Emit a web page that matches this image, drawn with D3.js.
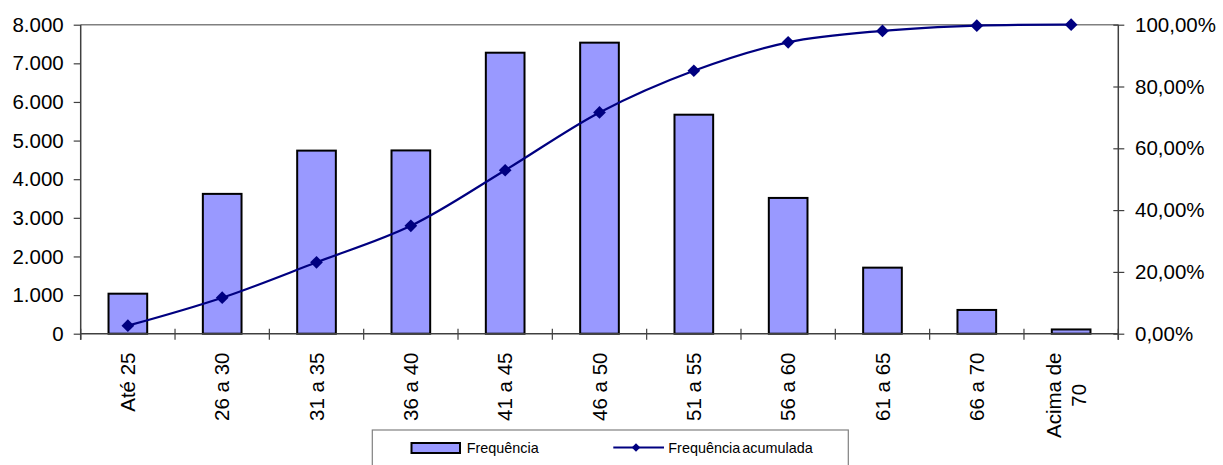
<!DOCTYPE html>
<html>
<head>
<meta charset="utf-8">
<script src="https://cdn.jsdelivr.net/npm/d3@7"></script>
<style>
  html, body { margin: 0; padding: 0; background: #fff; }
  svg { display: block; font-family: "Liberation Sans", Arial, sans-serif; }
</style>
</head>
<body>
<svg id="chart" width="1223" height="465"></svg>
<script>
// ---- data ----
const categories = ["Até 25", "26 a 30", "31 a 35", "36 a 40", "41 a 45", "46 a 50", "51 a 55", "56 a 60", "61 a 65", "66 a 70", "Acima de 70"];
const frequencia = [1036, 3620, 4740, 4745, 7275, 7535, 5670, 3515, 1710, 615, 110];
const acumulada = [0.026, 0.1165, 0.231, 0.349, 0.529, 0.716, 0.851, 0.943, 0.980, 0.997, 1.0];
const leftTicks = [0, 1000, 2000, 3000, 4000, 5000, 6000, 7000, 8000];
const rightTicks = [0, 0.2, 0.4, 0.6, 0.8, 1.0];
const seriesNames = ["Frequência", "Frequência acumulada"];

// ---- layout ----
const W = 1223, H = 465;
const plot = { left: 80.7, right: 1118.3, top: 24.7, bottom: 333.7 };
const barColor = "#9999FF";
const lineColor = "#000080";
const axisColor = "#404040";
const fontSize = 20.5;

const locale = d3.formatLocale({ decimal: ",", thousands: ".", grouping: [3], currency: ["", ""] });
const fmtInt = locale.format(",d");
const fmtPct = locale.format(".2%");

const svg = d3.select("#chart");

const x = d3.scaleBand().domain(categories).range([plot.left, plot.right]).padding(0);
const yL = d3.scaleLinear().domain([0, 8000]).range([plot.bottom, plot.top]);
const yR = d3.scaleLinear().domain([0, 1]).range([plot.bottom, plot.top]);
const barW = x.bandwidth() * 0.41;
const cxOf = (c) => x(c) + x.bandwidth() / 2;

// top border of plot area
svg.append("line")
  .attr("x1", plot.left).attr("x2", plot.right)
  .attr("y1", plot.top).attr("y2", plot.top)
  .attr("stroke", "#808080").attr("stroke-width", 1.5);

// bars
svg.append("g").selectAll("rect")
  .data(categories)
  .join("rect")
  .attr("x", (d) => cxOf(d) - barW / 2)
  .attr("width", barW)
  .attr("y", (d, i) => yL(frequencia[i]))
  .attr("height", (d, i) => yL(0) - yL(frequencia[i]))
  .attr("fill", barColor)
  .attr("stroke", "#000")
  .attr("stroke-width", 2);

// left axis
const gL = svg.append("g")
  .attr("transform", `translate(${plot.left},0)`)
  .call(d3.axisLeft(yL).tickValues(leftTicks).tickFormat(fmtInt).tickSize(7).tickSizeOuter(0).tickPadding(10));
gL.select(".domain").attr("stroke", axisColor).attr("stroke-width", 1.5)
  .attr("d", `M0,${plot.top}V${plot.bottom + 6}`);
gL.selectAll(".tick line").attr("stroke", axisColor).attr("stroke-width", 1.2);
gL.selectAll(".tick text").attr("font-size", fontSize).attr("fill", "#000").attr("font-family", "Liberation Sans, Arial, sans-serif");

// right axis
const gR = svg.append("g")
  .attr("transform", `translate(${plot.right},0)`)
  .call(d3.axisRight(yR).tickValues(rightTicks).tickFormat(fmtPct).tickSize(6).tickSizeOuter(0).tickPadding(10.7));
gR.select(".domain").attr("stroke", axisColor).attr("stroke-width", 1.5)
  .attr("d", `M0,${plot.top}V${plot.bottom + 6}`);
gR.selectAll(".tick line").attr("x1", -5).attr("x2", 6).attr("stroke", axisColor).attr("stroke-width", 1.2);
gR.selectAll(".tick text").attr("font-size", fontSize).attr("fill", "#000").attr("font-family", "Liberation Sans, Arial, sans-serif");

// bottom axis
const gB = svg.append("g");
gB.append("line")
  .attr("x1", plot.left).attr("x2", plot.right)
  .attr("y1", plot.bottom).attr("y2", plot.bottom)
  .attr("stroke", axisColor).attr("stroke-width", 1.5);
const boundaries = categories.map((c) => x(c)).concat([x.range()[1]]);
gB.selectAll("line.tk")
  .data(boundaries)
  .join("line")
  .attr("class", "tk")
  .attr("x1", (d) => d).attr("x2", (d) => d)
  .attr("y1", plot.bottom - 5).attr("y2", plot.bottom + 6)
  .attr("stroke", axisColor).attr("stroke-width", 1.2);

// category labels (rotated)
const labelTop = 352.5;
const measure = svg.append("text").attr("font-size", fontSize).attr("visibility", "hidden");
categories.forEach((c) => {
  measure.text(c);
  let lines = [c];
  if (measure.node().getComputedTextLength() > 78) {
    const k = c.lastIndexOf(" ");
    lines = [c.slice(0, k), c.slice(k + 1)];
  }
  const lineH = 25;
  const cx = cxOf(c);
  const g = svg.append("g");
  if (lines.length === 1) {
    g.append("text")
      .attr("transform", `translate(${cx},${labelTop}) rotate(-90)`)
      .attr("text-anchor", "end")
      .attr("dy", "0.35em")
      .attr("font-size", fontSize)
      .text(lines[0]);
  } else {
    let maxW = 0;
    lines.forEach((l) => { measure.text(l); maxW = Math.max(maxW, measure.node().getComputedTextLength()); });
    const cy = labelTop + maxW / 2;
    lines.forEach((l, j) => {
      const lx = cx - 4.5 + (j - (lines.length - 1) / 2) * lineH;
      g.append("text")
        .attr("transform", `translate(${lx},${cy}) rotate(-90)`)
        .attr("text-anchor", "middle")
        .attr("dy", "0.35em")
        .attr("font-size", fontSize)
        .text(l);
    });
  }
});
measure.remove();

// cumulative line (smoothed)
const line = d3.line()
  .x((d, i) => cxOf(categories[i]))
  .y((d) => yR(d))
  .curve(d3.curveCatmullRom.alpha(0.5));
svg.append("path")
  .datum(acumulada)
  .attr("d", line)
  .attr("fill", "none")
  .attr("stroke", lineColor)
  .attr("stroke-width", 2.2);

const diamond = d3.symbol().type(d3.symbolSquare).size(81);
svg.append("g").selectAll("path")
  .data(acumulada)
  .join("path")
  .attr("d", diamond)
  .attr("transform", (d, i) => `translate(${cxOf(categories[i])},${yR(d)}) rotate(45)`)
  .attr("fill", lineColor);

// legend
const lg = svg.append("g");
lg.append("rect")
  .attr("x", 372.3).attr("y", 430)
  .attr("width", 476).attr("height", 60)
  .attr("fill", "#fff").attr("stroke", "#808080").attr("stroke-width", 1.2);
lg.append("rect")
  .attr("x", 411.5).attr("y", 443)
  .attr("width", 48.5).attr("height", 10)
  .attr("fill", barColor).attr("stroke", "#000").attr("stroke-width", 2);
lg.append("text")
  .attr("x", 466.7).attr("y", 447.5).attr("dy", "0.35em")
  .attr("font-size", 14.4).text(seriesNames[0]);
lg.append("line")
  .attr("x1", 613.3).attr("x2", 664)
  .attr("y1", 447.5).attr("y2", 447.5)
  .attr("stroke", lineColor).attr("stroke-width", 2);
lg.append("path")
  .attr("d", d3.symbol().type(d3.symbolSquare).size(36))
  .attr("transform", "translate(636,447.5) rotate(45)")
  .attr("fill", lineColor);
lg.append("text")
  .attr("x", 668.3).attr("y", 447.5).attr("dy", "0.35em")
  .attr("font-size", 14.4).attr("word-spacing", "-2px").text(seriesNames[1]);
</script>
</body>
</html>
